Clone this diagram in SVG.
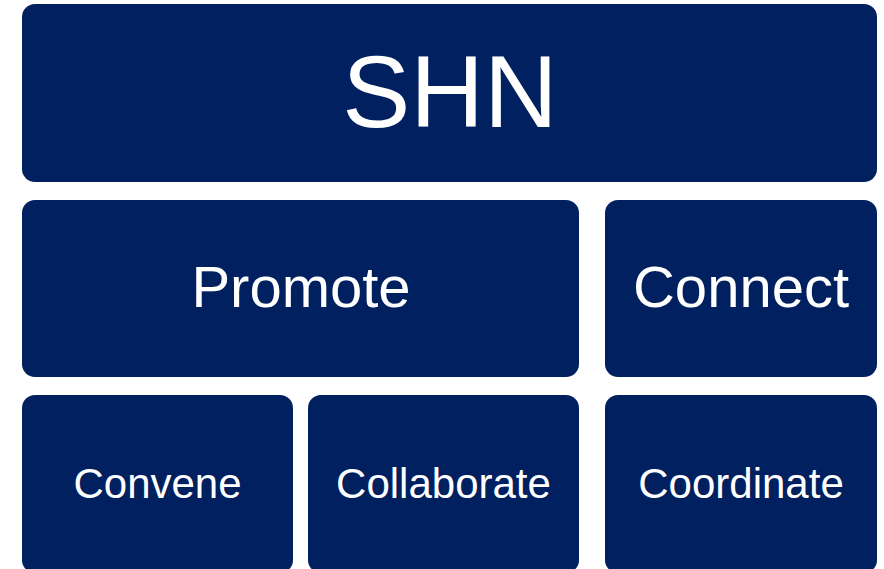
<svg xmlns="http://www.w3.org/2000/svg" width="884" height="569" viewBox="0 0 884 569">
<style>
.box{fill:#002060;}
.t{fill:#ffffff;font-family:"Liberation Sans",Arial,sans-serif;text-anchor:middle;}
</style>
<rect width="884" height="569" fill="#ffffff"/>
<g id="shn"><rect class="box" x="22" y="4" width="855" height="178" rx="13"/><text class="t" x="450" y="127" font-size="102">SHN</text></g>
<g id="promote"><rect class="box" x="22" y="200" width="557" height="177" rx="13"/><text class="t" x="301" y="307" font-size="58">Promote</text></g>
<g id="connect"><rect class="box" x="605" y="200" width="272" height="177" rx="13"/><text class="t" x="741" y="307" font-size="58">Connect</text></g>
<g id="convene"><rect class="box" x="22" y="395" width="271" height="178" rx="13"/><text class="t" x="157.5" y="498" font-size="42">Convene</text></g>
<g id="collaborate"><rect class="box" x="308" y="395" width="271" height="178" rx="13"/><text class="t" x="443.5" y="498" font-size="42">Collaborate</text></g>
<g id="coordinate"><rect class="box" x="605" y="395" width="272" height="178" rx="13"/><text class="t" x="741" y="498" font-size="42">Coordinate</text></g>
<g id="connectors"></g>
</svg>
